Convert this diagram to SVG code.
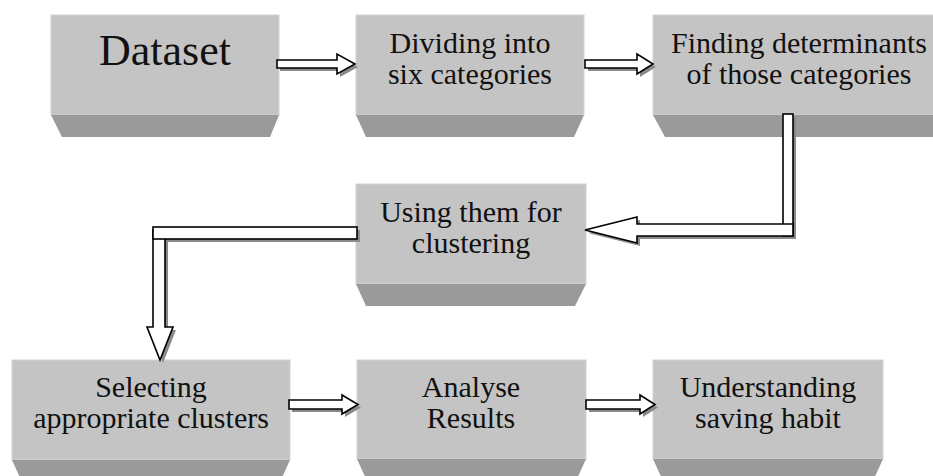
<svg xmlns="http://www.w3.org/2000/svg" width="933" height="476" viewBox="0 0 933 476">
<style>
.face{fill:#c4c4c4;stroke:#d2d2d2;stroke-width:1}
.bevel{fill:#9a9a9a}
.t{font-family:"Liberation Serif","Times New Roman",serif;font-size:30px;fill:#111;text-anchor:middle}
.big{font-size:44px}
.ar{fill:#fff;stroke:#000;stroke-width:1.6;stroke-linejoin:miter}
.sh{fill:#8a8a8a}
</style>
<rect width="933" height="476" fill="#fff"/>
<g id="node-dataset">
<rect class="face" x="51" y="15" width="228" height="100"/>
<polygon class="bevel" points="51,115 279,115 270,137 62,137"/>
<text class="t big" x="165" y="65">Dataset</text>
</g>
<g id="node-dividing">
<rect class="face" x="356" y="15" width="228" height="100"/>
<polygon class="bevel" points="356,115 584,115 574,137 366,137"/>
<text class="t" x="470" y="53">Dividing into</text>
<text class="t" x="470" y="84">six categories</text>
</g>
<g id="node-finding">
<rect class="face" x="653" y="15" width="292" height="100"/>
<polygon class="bevel" points="653,115 945,115 934,137 665,137"/>
<text class="t" x="799" y="53">Finding determinants</text>
<text class="t" x="799" y="84">of those categories</text>
</g>
<g id="node-using">
<rect class="face" x="356" y="184" width="230" height="100"/>
<polygon class="bevel" points="356,284 586,284 575,306 366,306"/>
<text class="t" x="471" y="222">Using them for</text>
<text class="t" x="471" y="253">clustering</text>
</g>
<g id="node-selecting">
<rect class="face" x="12" y="360" width="278" height="100"/>
<polygon class="bevel" points="12,460 290,460 280,482 22,482"/>
<text class="t" x="151" y="397">Selecting</text>
<text class="t" x="151" y="428">appropriate clusters</text>
</g>
<g id="node-analyse">
<rect class="face" x="357" y="360" width="229" height="99"/>
<polygon class="bevel" points="357,459 586,459 576,481 367,481"/>
<text class="t" x="471" y="397">Analyse</text>
<text class="t" x="471" y="428">Results</text>
</g>
<g id="node-understanding">
<rect class="face" x="653" y="360" width="230" height="99"/>
<polygon class="bevel" points="653,459 883,459 873,481 663,481"/>
<text class="t" x="768" y="397">Understanding</text>
<text class="t" x="768" y="428">saving habit</text>
</g>
<g id="connectors">
<g id="c1">
<polygon class="sh" transform="translate(3,3)" points="277,60 337,60 337,54 355,64 337,74 337,68 277,68"/>
<polygon class="ar" points="277,60 337,60 337,54 355,64 337,74 337,68 277,68"/>
</g>
<g id="c2">
<polygon class="sh" transform="translate(3,3)" points="585,60 637,60 637,54 653,64 637,74 637,68 585,68"/>
<polygon class="ar" points="585,60 637,60 637,54 653,64 637,74 637,68 585,68"/>
</g>
<g id="c3">
<rect class="sh" transform="translate(3,3)" x="783" y="114" width="10" height="122"/>
<polygon class="sh" transform="translate(3,3)" points="793,224 637,224 637,217 585,230 637,243 637,236 793,236"/>
<rect class="ar" x="783" y="114" width="10" height="122"/>
<polygon class="ar" points="793,224 637,224 637,217 585,230 637,243 637,236 793,236"/>
</g>
<g id="c4">
<rect class="sh" transform="translate(3,3)" x="153" y="227" width="204" height="12"/>
<polygon class="sh" transform="translate(3,3)" points="153,230 165,230 165,327 173,327 160,360 147,327 153,327"/>
<polygon class="ar" points="153,230 165,230 165,327 173,327 160,360 147,327 153,327"/>
<rect class="ar" x="153" y="227" width="204" height="12"/>
</g>
<g id="c5">
<polygon class="sh" transform="translate(3,3)" points="289,400 342,400 342,395 358,404.5 342,414 342,409 289,409"/>
<polygon class="ar" points="289,400 342,400 342,395 358,404.5 342,414 342,409 289,409"/>
</g>
<g id="c6">
<polygon class="sh" transform="translate(3,3)" points="586,400 640,400 640,395 655,404.5 640,414 640,409 586,409"/>
<polygon class="ar" points="586,400 640,400 640,395 655,404.5 640,414 640,409 586,409"/>
</g>
</g>
</svg>
